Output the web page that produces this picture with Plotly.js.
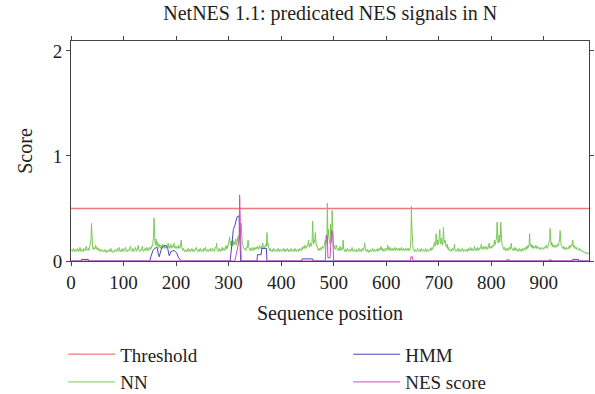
<!DOCTYPE html>
<html>
<head>
<meta charset="utf-8">
<script src="https://cdn.plot.ly/plotly-3.0.1.min.js"></script>
<style>html,body{margin:0;padding:0;background:#fff;}#chart{width:595px;height:394px;}</style>
</head>
<body>
<div id="chart"></div>
<script>
// Threshold
var thresholdPos = [0, 986];
var thresholdScore = [0.5, 0.5];

// NN score, residues 1..986
var nnScore = [
.10,.11,.09,.10,.12,.10,.09,.11,.10,.09,
.10,.12,.10,.09,.11,.10,.13,.10,.09,.10,
.11,.10,.09,.12,.10,.11,.10,.12,.14,.11,
.10,.11,.12,.10,.13,.12,.15,.20,.36,.19,
.14,.11,.12,.13,.11,.14,.15,.12,.11,.13,
.11,.10,.12,.10,.11,.09,.10,.11,.10,.09,
.10,.09,.10,.11,.09,.10,.08,.10,.09,.10,
.09,.10,.11,.09,.10,.12,.09,.10,.09,.08,
.09,.10,.09,.11,.10,.09,.10,.12,.10,.09,
.10,.13,.10,.09,.10,.11,.09,.10,.12,.10,
.09,.10,.11,.13,.10,.09,.10,.09,.11,.10,
.10,.12,.14,.11,.10,.09,.10,.12,.10,.09,
.10,.11,.13,.10,.09,.10,.12,.15,.11,.10,
.09,.10,.11,.10,.12,.14,.10,.09,.10,.11,
.12,.10,.11,.13,.10,.12,.11,.10,.13,.12,
.11,.13,.12,.15,.14,.18,.22,.41,.20,.17,
.15,.21,.16,.14,.18,.15,.13,.16,.14,.12,
.15,.13,.12,.16,.14,.13,.15,.12,.14,.13,
.12,.14,.13,.15,.17,.13,.12,.14,.13,.16,
.14,.12,.13,.15,.14,.17,.13,.12,.14,.13,
.12,.14,.13,.12,.15,.13,.12,.14,.16,.20,
.13,.11,.10,.12,.10,.09,.10,.11,.09,.10,
.09,.10,.12,.10,.09,.11,.10,.09,.10,.12,
.10,.09,.11,.10,.09,.10,.12,.11,.13,.10,
.09,.10,.11,.09,.10,.12,.10,.09,.10,.11,
.10,.09,.12,.10,.11,.13,.10,.09,.10,.11,
.09,.10,.11,.10,.12,.10,.09,.10,.12,.10,
.10,.11,.09,.12,.13,.12,.17,.11,.10,.09,
.10,.12,.10,.11,.09,.10,.11,.13,.10,.12,
.11,.10,.12,.14,.11,.13,.15,.12,.14,.16,
.18,.23,.17,.15,.19,.16,.14,.20,.17,.15,
.18,.16,.21,.17,.15,.19,.23,.18,.20,.25,
.22,.28,.24,.36,.20,.17,.15,.13,.12,.11,
.12,.11,.10,.12,.14,.13,.20,.14,.12,.11,
.10,.12,.11,.10,.13,.11,.10,.12,.11,.13,
.12,.11,.13,.12,.14,.12,.11,.13,.15,.12,
.13,.12,.14,.13,.17,.13,.12,.14,.13,.15,
.16,.14,.27,.15,.17,.13,.11,.10,.12,.10,
.09,.10,.11,.09,.10,.12,.10,.09,.10,.11,
.10,.09,.10,.12,.10,.11,.09,.10,.11,.10,
.09,.10,.11,.10,.12,.09,.10,.11,.09,.10,
.10,.12,.10,.09,.11,.10,.09,.10,.12,.10,
.09,.10,.11,.10,.09,.12,.10,.11,.09,.10,
.10,.11,.09,.10,.12,.10,.11,.10,.12,.13,
.11,.12,.14,.12,.15,.13,.12,.14,.13,.16,
.15,.20,.14,.13,.16,.17,.14,.15,.19,.38,
.22,.16,.20,.18,.27,.17,.14,.15,.12,.11,
.10,.12,.11,.10,.12,.13,.11,.12,.14,.13,
.12,.15,.17,.20,.16,.25,.19,.55,.24,.30,
.21,.20,.16,.35,.22,.18,.48,.25,.20,.14,
.15,.12,.11,.13,.15,.12,.11,.10,.12,.11,
.10,.14,.11,.10,.12,.13,.11,.20,.12,.10,
.09,.10,.11,.09,.10,.12,.10,.09,.10,.11,
.10,.09,.11,.10,.13,.10,.09,.10,.11,.10,
.09,.10,.09,.11,.10,.09,.10,.12,.10,.09,
.10,.11,.09,.10,.12,.10,.11,.13,.17,.11,
.10,.09,.10,.11,.09,.10,.08,.10,.09,.11,
.10,.09,.10,.12,.10,.09,.11,.10,.09,.10,
.11,.10,.09,.12,.10,.11,.10,.12,.11,.14,
.11,.10,.12,.10,.11,.09,.10,.12,.11,.10,
.12,.11,.15,.12,.10,.11,.13,.10,.12,.11,
.10,.12,.11,.10,.12,.11,.13,.10,.11,.12,
.11,.10,.12,.11,.10,.12,.11,.10,.13,.11,
.10,.11,.12,.10,.11,.10,.12,.11,.10,.12,
.11,.10,.12,.10,.11,.13,.20,.52,.30,.15,
.12,.11,.10,.09,.11,.10,.09,.10,.11,.12,
.10,.09,.10,.11,.09,.10,.12,.10,.09,.10,
.11,.10,.09,.10,.12,.10,.09,.11,.10,.09,
.10,.11,.10,.12,.11,.10,.13,.11,.12,.14,
.15,.18,.14,.16,.26,.17,.15,.20,.16,.18,
.22,.30,.18,.16,.22,.17,.15,.19,.32,.20,
.17,.20,.15,.14,.13,.16,.12,.11,.13,.10,
.11,.10,.09,.11,.10,.12,.11,.10,.12,.16,
.11,.10,.09,.10,.11,.10,.12,.09,.10,.11,
.10,.09,.11,.10,.12,.10,.09,.10,.11,.10,
.09,.10,.11,.09,.10,.12,.10,.11,.10,.13,
.11,.10,.12,.10,.11,.10,.12,.14,.11,.10,
.12,.11,.10,.13,.11,.10,.12,.11,.13,.12,
.16,.12,.11,.13,.12,.14,.12,.11,.13,.14,
.12,.13,.11,.14,.13,.17,.12,.14,.13,.12,
.14,.13,.15,.14,.16,.20,.15,.17,.18,.22,
.37,.20,.17,.19,.25,.18,.22,.37,.20,.18,
.15,.14,.12,.11,.13,.11,.10,.12,.11,.10,
.12,.11,.10,.13,.12,.11,.14,.17,.12,.11,
.10,.12,.11,.10,.13,.11,.10,.12,.11,.10,
.09,.11,.10,.12,.11,.10,.09,.11,.10,.12,
.11,.10,.12,.11,.13,.12,.11,.14,.12,.15,
.13,.16,.26,.15,.14,.16,.13,.15,.12,.14,
.13,.12,.14,.13,.15,.12,.14,.13,.12,.13,
.12,.11,.13,.12,.11,.12,.13,.12,.11,.12,
.13,.12,.14,.13,.15,.13,.12,.14,.16,.18,
.20,.31,.17,.15,.18,.14,.16,.13,.15,.14,
.13,.15,.14,.13,.15,.16,.14,.17,.19,.20,
.29,.17,.15,.14,.13,.12,.14,.12,.11,.13,
.12,.11,.13,.12,.12,.11,.13,.14,.12,.15,
.13,.14,.16,.15,.20,.14,.13,.15,.12,.13,
.12,.11,.13,.12,.12,.11,.10,.12,.11,.10,
.10,.09,.10,.09,.09,.08,.09,.08,.08,.07,
.08,.07,.08,.07,.07,.08
];
var nnPos = nnScore.map(function(_, i){ return i + 1; });

// HMM score (step-like profile)
var hmmPos   = [1, 19, 20, 33, 34, 150, 152, 156, 159, 164, 166, 168, 171, 175, 181, 184, 187, 190, 196, 201, 205, 210, 303, 305, 307, 309, 312, 314, 316, 320, 322, 323, 354, 355, 362, 363, 372, 373, 439, 440, 460, 461, 828, 829, 834, 835, 910, 911, 914, 915, 954, 955, 966, 967, 986];
var hmmScore = [0, 0, 0.015, 0.015, 0, 0, 0.04, 0.10, 0.12, 0.13, 0.07, 0.04, 0.10, 0.14, 0.15, 0.12, 0.05, 0.09, 0.10, 0.08, 0.03, 0, 0, 0.10, 0.20, 0.30, 0.34, 0.40, 0.42, 0.43, 0.20, 0, 0, 0.06, 0.06, 0.12, 0.12, 0, 0, 0.02, 0.02, 0, 0, 0.01, 0.01, 0, 0, 0.01, 0.01, 0, 0, 0.015, 0.015, 0, 0];

// NES score
var nesPos   = [1, 312, 314, 316, 318, 320, 321, 322, 323, 324, 484, 485, 486, 488, 489, 493, 494, 496, 498, 499, 500, 646, 647, 650, 651, 986];
var nesScore = [0, 0, 0.05, 0.10, 0.15, 0.20, 0.63, 0.35, 0.15, 0, 0, 0.10, 0.24, 0.24, 0.03, 0.03, 0.15, 0.29, 0.28, 0.10, 0, 0, 0.04, 0.04, 0, 0];

var xTicks = [0, 100, 200, 300, 400, 500, 600, 700, 800, 900];
var yTicks = [0, 1, 2];

var FONT = "Liberation Serif, Times New Roman, serif";

var traces = [
  {x: thresholdPos, y: thresholdScore, name: "Threshold", mode: "lines", line: {color: "#f07878", width: 1.3}, legendrank: 1},
  {x: nnPos, y: nnScore, name: "NN", mode: "lines", line: {color: "#7cc95a", width: 1}, legendrank: 3},
  {x: hmmPos, y: hmmScore, name: "HMM", mode: "lines", line: {color: "#4848bc", width: 1}, legendrank: 2},
  {x: nesPos, y: nesScore, name: "NES score", mode: "lines", line: {color: "#d04cbc", width: 1}, legendrank: 4}
];

var layout = {
  width: 595, height: 394,
  margin: {l: 71, r: 6, t: 41, b: 133, autoexpand: false},
  paper_bgcolor: "#fff", plot_bgcolor: "#fff",
  font: {family: FONT, size: 20, color: "#222"},
  title: {text: "NetNES 1.1: predicated NES signals in N", font: {family: FONT, size: 20, color: "#222"}, x: 0.555, xanchor: "center", y: 0.967, yanchor: "middle"},
  xaxis: {
    range: [0, 986], tickvals: xTicks, ticktext: xTicks.map(String),
    showline: true, linecolor: "#444", linewidth: 1, mirror: "ticks",
    ticks: "outside", ticklen: 4, tickcolor: "#444", showgrid: false, zeroline: false,
    tickfont: {family: FONT, size: 19, color: "#222"},
    title: {text: "Sequence position", font: {family: FONT, size: 20, color: "#222"}, standoff: 14}
  },
  yaxis: {
    range: [0, 2.095], tickvals: yTicks, ticktext: yTicks.map(String),
    showline: true, linecolor: "#444", linewidth: 1, mirror: "ticks",
    ticks: "outside", ticklen: 4, tickcolor: "#444", showgrid: false, zeroline: false,
    tickfont: {family: FONT, size: 19, color: "#222"},
    title: {text: "Score", font: {family: FONT, size: 20, color: "#222"}, standoff: 14}
  },
  showlegend: true,
  legend: {
    orientation: "h", x: -0.015, xanchor: "left", y: -0.338, yanchor: "top",
    entrywidth: 223, entrywidthmode: "pixels", itemwidth: 47,
    font: {family: FONT, size: 19, color: "#222"},
    bgcolor: "rgba(0,0,0,0)", traceorder: "normal"
  }
};

Plotly.newPlot("chart", traces, layout, {staticPlot: true, displayModeBar: false});
</script>
</body>
</html>
